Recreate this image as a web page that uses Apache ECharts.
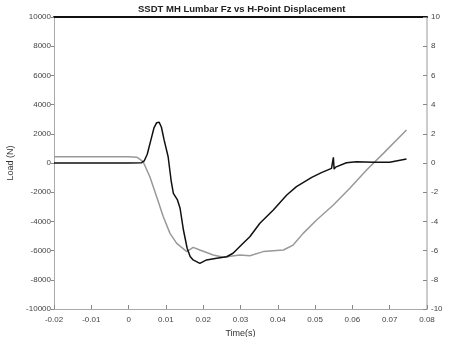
<!DOCTYPE html>
<html><head><meta charset="utf-8">
<script src="https://cdn.jsdelivr.net/npm/echarts@6/dist/echarts.min.js"></script>
<style>html,body{margin:0;padding:0;background:#fff}#c{width:453px;height:337px}</style>
</head><body><div id="c"></div>
<script>
const titleText = 'SSDT MH Lumbar Fz vs H-Point Displacement';
const xTicks = [-0.02, -0.01, 0, 0.01, 0.02, 0.03, 0.04, 0.05, 0.06, 0.07, 0.08];
const loadTime = [-0.02, 0.0, 0.0035, 0.0042, 0.005, 0.006, 0.0068, 0.0075, 0.0082, 0.0088, 0.0095, 0.0106, 0.0114, 0.012, 0.0131, 0.0138, 0.0147, 0.0157, 0.0165, 0.0173, 0.0191, 0.0209, 0.0236, 0.0263, 0.028, 0.0307, 0.0325, 0.0352, 0.0388, 0.0424, 0.045, 0.0491, 0.0517, 0.0544, 0.0549, 0.0549, 0.0551, 0.0551, 0.0555, 0.0584, 0.0611, 0.0656, 0.07, 0.0745];
const loadValues = [0, 0, 20, 150, 600, 1600, 2400, 2750, 2790, 2450, 1600, 430, -1200, -2075, -2530, -3100, -4590, -5840, -6400, -6640, -6870, -6640, -6530, -6420, -6180, -5500, -5050, -4130, -3220, -2190, -1620, -980, -660, -365, -300, 390, 390, -420, -280, 20, 90, 50, 50, 270];
const dispTime = [-0.02, 0.0, 0.0022, 0.0039, 0.0057, 0.0075, 0.0093, 0.0111, 0.0129, 0.0156, 0.0173, 0.0191, 0.0227, 0.0254, 0.0298, 0.0325, 0.0361, 0.0415, 0.0441, 0.0468, 0.0504, 0.0549, 0.0593, 0.0638, 0.0683, 0.0745];
const dispValues = [0.43, 0.43, 0.4, 0.09, -0.94, -2.3, -3.68, -4.82, -5.5, -6.07, -5.78, -5.96, -6.3, -6.46, -6.3, -6.35, -6.07, -5.96, -5.62, -4.82, -3.9, -2.88, -1.73, -0.48, 0.66, 2.26];

const font = 'Liberation Sans, Arial, sans-serif';
const chart = echarts.init(document.getElementById('c'));
chart.setOption({
  animation: false,
  title: { text: titleText, left: 138, top: 4, padding: 0, textStyle: { fontSize: 9.5, fontWeight: 'bold', color: '#222', fontFamily: font } },
  grid: { left: 54, right: 26, top: 17, bottom: 28, outerBoundsMode: 'none', containLabel: false },
  xAxis: [{
    type: 'value', min: -0.02, max: 0.08, interval: 0.01,
    name: 'Time(s)', nameLocation: 'middle', nameGap: 19,
    nameTextStyle: { fontSize: 9, color: '#333', fontFamily: font },
    axisLine: { onZero: false, lineStyle: { color: '#aaa', width: 1 } },
    axisTick: { inside: true, length: 4, lineStyle: { color: '#888' } },
    axisLabel: { fontSize: 8, color: '#444', fontFamily: font, margin: 7, formatter: v => String(+v.toFixed(2)) },
    splitLine: { show: false }
  }, {
    type: 'value', position: 'top', min: -0.02, max: 0.08,
    axisLine: { show: true, onZero: false, lineStyle: { color: '#111', width: 2 } },
    axisTick: { show: false }, axisLabel: { show: false }, splitLine: { show: false }
  }],
  yAxis: [{
    type: 'value', min: -10000, max: 10000, interval: 2000,
    name: 'Load (N)', nameLocation: 'middle', nameGap: 27, nameRotate: 90,
    nameTextStyle: { fontSize: 9, color: '#333', fontFamily: font },
    axisLine: { show: true, onZero: false, lineStyle: { color: '#aaa', width: 1 } },
    axisTick: { show: true, length: 3, lineStyle: { color: '#888' } },
    axisLabel: { fontSize: 8, color: '#444', fontFamily: font, margin: 3, formatter: v => String(v) },
    splitLine: { show: false }
  }, {
    type: 'value', min: -10, max: 10, interval: 2, position: 'right',
    name: 'Displacement (cm)', nameLocation: 'middle', nameGap: 20, nameRotate: 90,
    nameTextStyle: { fontSize: 9, color: '#333', fontFamily: font },
    axisLine: { show: true, onZero: false, lineStyle: { color: '#bbb', width: 1.5 } },
    axisTick: { show: true, inside: true, length: 4, lineStyle: { color: '#888' } },
    axisLabel: { fontSize: 8, color: '#444', fontFamily: font, margin: 4 },
    splitLine: { show: false }
  }],
  series: [{
    type: 'line', yAxisIndex: 1, showSymbol: false,
    data: dispTime.map((t, i) => [t, dispValues[i]]),
    lineStyle: { color: '#999', width: 1.5 }
  }, {
    type: 'line', yAxisIndex: 0, showSymbol: false,
    data: loadTime.map((t, i) => [t, loadValues[i]]),
    lineStyle: { color: '#111', width: 1.5 }
  }]
});
</script></body></html>
